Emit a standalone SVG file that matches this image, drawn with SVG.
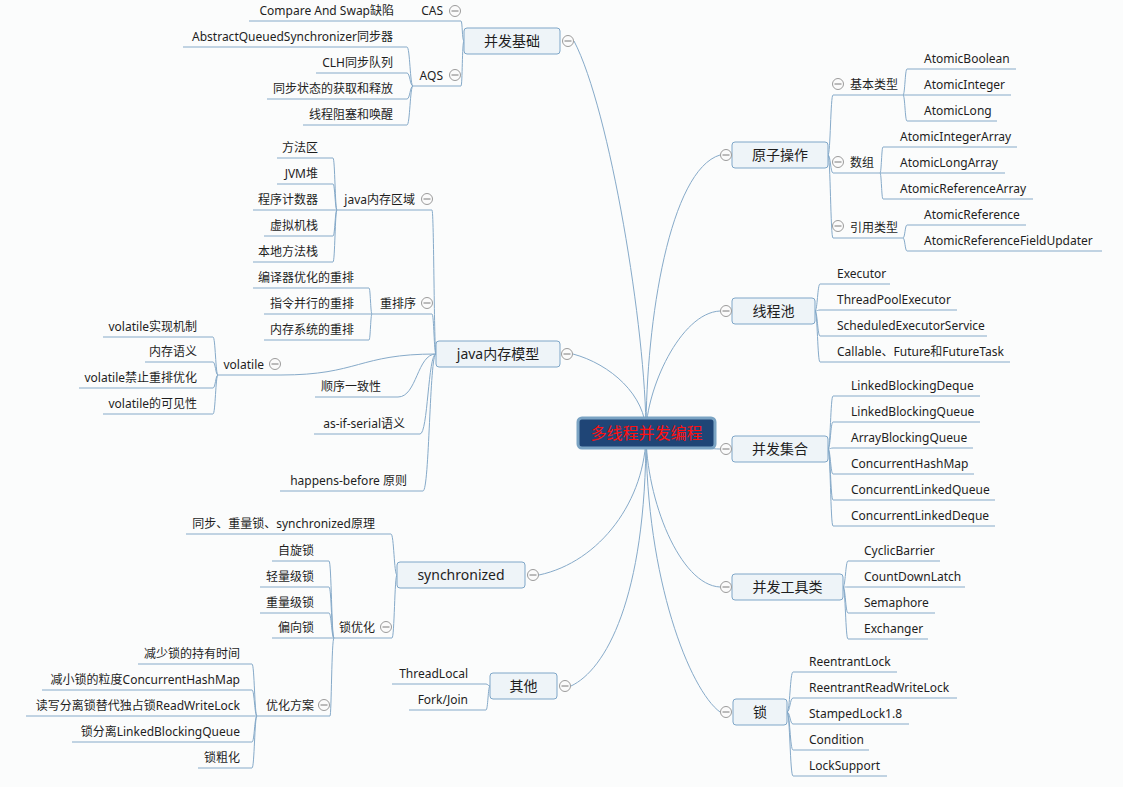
<svg xmlns="http://www.w3.org/2000/svg" width="1123" height="787" viewBox="0 0 1123 787">
<style>
.c{fill:none;stroke:#86aac9;stroke-width:1}
.u{stroke:#86aac9;stroke-width:1}
.box{fill:#eef4f8;stroke:#7ea6c8;stroke-width:1}
.t{font-family:"Noto Sans","Noto Sans CJK SC",sans-serif;font-size:12px;fill:#1e1e1e}
.e{text-anchor:end}
.m{font-family:"Noto Sans","Noto Sans CJK SC",sans-serif;font-size:14px;fill:#1e1e1e;text-anchor:middle}
</style>
<defs>
<g id="mn"><circle r="5.5" fill="#fbfbfb" stroke="#9b9b9b"/><line x1="-3.5" x2="3.5" y1="0" y2="0" stroke="#7a7a7a"/></g>
</defs>
<rect width="1123" height="787" fill="#fbfcfc"/>
<g id="connectors">
<path class="c" d="M646,433 C646,330 610,110 574,41"/>
<path class="c" d="M646,433 C646,320 670,170 720,155"/>
<path class="c" d="M646,433 C646,390 680,313 720,311"/>
<path class="c" d="M646,433 C646,395 610,364 573,354"/>
<path class="c" d="M646,433 C680,440 700,449 720,449"/>
<path class="c" d="M646,433 C646,500 600,562 539,575"/>
<path class="c" d="M646,433 C646,600 605,670 571,686"/>
<path class="c" d="M646,433 C646,500 680,585 720,587"/>
<path class="c" d="M646,433 C646,580 690,690 720,712"/>
<path class="c" d="M464,41 C462,41 462.5,21 461,21"/>
<path class="c" d="M464,41 C462,41 462.5,86 461,86"/>
<path class="c" d="M413,86 C410,86 410,47 407,47"/>
<path class="c" d="M413,86 C410,86 410,73 407,73"/>
<path class="c" d="M413,86 C410,86 410,99 407,99"/>
<path class="c" d="M413,86 C410,86 410,125 407,125"/>
<path class="c" d="M436,354 C434,354 434,210 432,210"/>
<path class="c" d="M436,354 C434,354 434,314 432,314"/>
<path class="c" d="M436,354 C358.5,354 358.5,375 281,375"/>
<path class="c" d="M436,354 C417,354 417,397 398,397"/>
<path class="c" d="M436,354 C428,354 428,434 420,434"/>
<path class="c" d="M436,354 C429.5,354 429.5,491 423,491"/>
<path class="c" d="M337,210 C335,210 335,158 333,158"/>
<path class="c" d="M337,210 C335,210 335,184 333,184"/>
<path class="c" d="M337,210 C335,210 335,236 333,236"/>
<path class="c" d="M337,210 C335,210 335,262 333,262"/>
<path class="c" d="M372,314 C370.5,314 370.5,288 369,288"/>
<path class="c" d="M372,314 C370.5,314 370.5,340 369,340"/>
<path class="c" d="M218,375 C215.5,375 215.5,337 213,337"/>
<path class="c" d="M218,375 C215.5,375 215.5,362 213,362"/>
<path class="c" d="M218,375 C215.5,375 215.5,388 213,388"/>
<path class="c" d="M218,375 C215.5,375 215.5,414 213,414"/>
<path class="c" d="M397,575 C394,575 394,534 391,534"/>
<path class="c" d="M397,575 C394.5,575 394.5,638 392,638"/>
<path class="c" d="M334,638 C331.5,638 331.5,561 329,561"/>
<path class="c" d="M334,638 C331.5,638 331.5,587 329,587"/>
<path class="c" d="M334,638 C331.5,638 331.5,613 329,613"/>
<path class="c" d="M334,638 C331.5,638 331.5,716 330,716"/>
<path class="c" d="M257,716 C254.5,716 254.5,664 252,664"/>
<path class="c" d="M257,716 C254.5,716 254.5,690 252,690"/>
<path class="c" d="M257,716 C254.5,716 254.5,742 252,742"/>
<path class="c" d="M257,716 C254.5,716 254.5,768 252,768"/>
<path class="c" d="M490,686 C488,686 488,684 486,684"/>
<path class="c" d="M490,686 C488,686 488,710 486,710"/>
<path class="c" d="M828,155 C830.5,155 830.5,95 833,95"/>
<path class="c" d="M828,155 C830.5,155 830.5,173 833,173"/>
<path class="c" d="M828,155 C830.5,155 830.5,238 833,238"/>
<path class="c" d="M903,95 C905,95 905,69 907,69"/>
<path class="c" d="M903,95 C905,95 905,121 907,121"/>
<path class="c" d="M880,173 C881.5,173 881.5,147 883,147"/>
<path class="c" d="M880,173 C881.5,173 881.5,199 883,199"/>
<path class="c" d="M903,238 C905,238 905,225 907,225"/>
<path class="c" d="M903,238 C905,238 905,251 907,251"/>
<path class="c" d="M815,311 C817.5,311 817.5,284 820,284"/>
<path class="c" d="M815,311 C817.5,311 817.5,310 820,310"/>
<path class="c" d="M815,311 C817.5,311 817.5,336 820,336"/>
<path class="c" d="M815,311 C817.5,311 817.5,362 820,362"/>
<path class="c" d="M828,449 C830.5,449 830.5,396 833,396"/>
<path class="c" d="M828,449 C830.5,449 830.5,422 833,422"/>
<path class="c" d="M828,449 C830.5,449 830.5,448 833,448"/>
<path class="c" d="M828,449 C830.5,449 830.5,474 833,474"/>
<path class="c" d="M828,449 C830.5,449 830.5,500 833,500"/>
<path class="c" d="M828,449 C830.5,449 830.5,526 833,526"/>
<path class="c" d="M843,587 C845.5,587 845.5,561 848,561"/>
<path class="c" d="M843,587 C845.5,587 845.5,587 848,587"/>
<path class="c" d="M843,587 C845.5,587 845.5,613 848,613"/>
<path class="c" d="M843,587 C845.5,587 845.5,639 848,639"/>
<path class="c" d="M787,712 C790,712 790,672 793,672"/>
<path class="c" d="M787,712 C790,712 790,698 793,698"/>
<path class="c" d="M787,712 C790,712 790,724 793,724"/>
<path class="c" d="M787,712 C790,712 790,750 793,750"/>
<path class="c" d="M787,712 C790,712 790,776 793,776"/>
</g>

<g id="n-root">
<rect x="578" y="418" width="137" height="30" rx="4" fill="#1f4576" stroke="#7aa3c3" stroke-width="3"/>
<text x="646.5" y="438.5" font-family="Noto Sans CJK SC, sans-serif" font-size="16" fill="#ff1010" text-anchor="middle">多线程并发编程</text>
</g>

<g id="n-bingfa-jichu">
<rect class="box" x="464" y="28" width="96" height="26" rx="3"/>
<text class="m" x="512" y="46">并发基础</text>
<use href="#mn" x="568" y="41"/>
</g>
<g id="n-cas"><line class="u" x1="413" y1="21" x2="461" y2="21"/><text class="t e" x="443" y="15">CAS</text><use href="#mn" x="455" y="11"/></g>
<g id="n-cas-defect"><line class="u" x1="249" y1="21" x2="413" y2="21"/><text class="t e" x="394" y="15">Compare And Swap缺陷</text></g>
<g id="n-aqs"><line class="u" x1="413" y1="86" x2="461" y2="86"/><text class="t e" x="443" y="80">AQS</text><use href="#mn" x="455" y="75"/></g>
<g id="n-aqs-1"><line class="u" x1="183" y1="47" x2="407" y2="47"/><text class="t e" x="393" y="41">AbstractQueuedSynchronizer同步器</text></g>
<g id="n-aqs-2"><line class="u" x1="316" y1="73" x2="407" y2="73"/><text class="t e" x="393" y="67">CLH同步队列</text></g>
<g id="n-aqs-3"><line class="u" x1="267" y1="99" x2="407" y2="99"/><text class="t e" x="393" y="93">同步状态的获取和释放</text></g>
<g id="n-aqs-4"><line class="u" x1="303" y1="125" x2="407" y2="125"/><text class="t e" x="393" y="119">线程阻塞和唤醒</text></g>

<g id="n-jmm">
<rect class="box" x="436" y="341" width="124" height="26" rx="3"/>
<text class="m" x="498" y="359">java内存模型</text>
<use href="#mn" x="567" y="354"/>
</g>
<g id="n-mem-area"><line class="u" x1="337" y1="210" x2="432" y2="210"/><text class="t e" x="415" y="204">java内存区域</text><use href="#mn" x="427" y="199"/></g>
<g id="n-ma-1"><line class="u" x1="277" y1="158" x2="333" y2="158"/><text class="t e" x="318" y="152">方法区</text></g>
<g id="n-ma-2"><line class="u" x1="277" y1="184" x2="333" y2="184"/><text class="t e" x="318" y="178">JVM堆</text></g>
<g id="n-ma-3"><line class="u" x1="253" y1="210" x2="337" y2="210"/><text class="t e" x="318" y="204">程序计数器</text></g>
<g id="n-ma-4"><line class="u" x1="264" y1="236" x2="333" y2="236"/><text class="t e" x="318" y="230">虚拟机栈</text></g>
<g id="n-ma-5"><line class="u" x1="253" y1="262" x2="333" y2="262"/><text class="t e" x="318" y="256">本地方法栈</text></g>
<g id="n-reorder"><line class="u" x1="372" y1="314" x2="432" y2="314"/><text class="t e" x="416" y="308">重排序</text><use href="#mn" x="427" y="303"/></g>
<g id="n-ro-1"><line class="u" x1="253" y1="288" x2="369" y2="288"/><text class="t e" x="354" y="282">编译器优化的重排</text></g>
<g id="n-ro-2"><line class="u" x1="264" y1="314" x2="372" y2="314"/><text class="t e" x="354" y="308">指令并行的重排</text></g>
<g id="n-ro-3"><line class="u" x1="264" y1="340" x2="369" y2="340"/><text class="t e" x="354" y="334">内存系统的重排</text></g>
<g id="n-volatile"><line class="u" x1="218" y1="375" x2="281" y2="375"/><text class="t e" x="264" y="369">volatile</text><use href="#mn" x="275" y="364"/></g>
<g id="n-vo-1"><line class="u" x1="103" y1="337" x2="213" y2="337"/><text class="t e" x="197" y="331">volatile实现机制</text></g>
<g id="n-vo-2"><line class="u" x1="145" y1="362" x2="213" y2="362"/><text class="t e" x="197" y="356">内存语义</text></g>
<g id="n-vo-3"><line class="u" x1="79" y1="388" x2="213" y2="388"/><text class="t e" x="197" y="382">volatile禁止重排优化</text></g>
<g id="n-vo-4"><line class="u" x1="103" y1="414" x2="213" y2="414"/><text class="t e" x="197" y="408">volatile的可见性</text></g>
<g id="n-seq"><line class="u" x1="315" y1="397" x2="398" y2="397"/><text class="t e" x="381" y="391">顺序一致性</text></g>
<g id="n-asif"><line class="u" x1="314" y1="434" x2="420" y2="434"/><text class="t e" x="405" y="428">as-if-serial语义</text></g>
<g id="n-hb"><line class="u" x1="280" y1="491" x2="423" y2="491"/><text class="t e" x="407" y="485">happens-before 原则</text></g>

<g id="n-sync">
<rect class="box" x="397" y="562" width="128" height="26" rx="3"/>
<text class="m" x="461" y="580">synchronized</text>
<use href="#mn" x="533" y="575"/>
</g>
<g id="n-sync-1"><line class="u" x1="186" y1="534" x2="391" y2="534"/><text class="t e" x="375" y="528">同步、重量锁、synchronized原理</text></g>
<g id="n-lockopt"><line class="u" x1="334" y1="638" x2="392" y2="638"/><text class="t e" x="375" y="632">锁优化</text><use href="#mn" x="386" y="627"/></g>
<g id="n-lo-1"><line class="u" x1="272" y1="561" x2="329" y2="561"/><text class="t e" x="314" y="555">自旋锁</text></g>
<g id="n-lo-2"><line class="u" x1="260" y1="587" x2="329" y2="587"/><text class="t e" x="314" y="581">轻量级锁</text></g>
<g id="n-lo-3"><line class="u" x1="260" y1="613" x2="329" y2="613"/><text class="t e" x="314" y="607">重量级锁</text></g>
<g id="n-lo-4"><line class="u" x1="272" y1="638" x2="334" y2="638"/><text class="t e" x="314" y="632">偏向锁</text></g>
<g id="n-optplan"><line class="u" x1="257" y1="716" x2="330" y2="716"/><text class="t e" x="314" y="710">优化方案</text><use href="#mn" x="324" y="705"/></g>
<g id="n-op-1"><line class="u" x1="138" y1="664" x2="252" y2="664"/><text class="t e" x="240" y="658">减少锁的持有时间</text></g>
<g id="n-op-2"><line class="u" x1="42" y1="690" x2="252" y2="690"/><text class="t e" x="240" y="684">减小锁的粒度ConcurrentHashMap</text></g>
<g id="n-op-3"><line class="u" x1="26" y1="716" x2="257" y2="716"/><text class="t e" x="240" y="710">读写分离锁替代独占锁ReadWriteLock</text></g>
<g id="n-op-4"><line class="u" x1="72" y1="742" x2="252" y2="742"/><text class="t e" x="240" y="736">锁分离LinkedBlockingQueue</text></g>
<g id="n-op-5"><line class="u" x1="198" y1="768" x2="252" y2="768"/><text class="t e" x="240" y="762">锁粗化</text></g>

<g id="n-other">
<rect class="box" x="490" y="673" width="67" height="26" rx="3"/>
<text class="m" x="523.5" y="691">其他</text>
<use href="#mn" x="565" y="686"/>
</g>
<g id="n-ot-1"><line class="u" x1="392" y1="684" x2="486" y2="684"/><text class="t e" x="468" y="678">ThreadLocal</text></g>
<g id="n-ot-2"><line class="u" x1="409" y1="710" x2="486" y2="710"/><text class="t e" x="468" y="704">Fork/Join</text></g>

<g id="n-atomic">
<rect class="box" x="732" y="142" width="96" height="26" rx="3"/>
<text class="m" x="780" y="160">原子操作</text>
<use href="#mn" x="726" y="155"/>
</g>
<g id="n-basic"><line class="u" x1="833" y1="95" x2="903" y2="95"/><use href="#mn" x="838" y="84"/><text class="t" x="850" y="89">基本类型</text></g>
<g id="n-ba-1"><line class="u" x1="907" y1="69" x2="1016" y2="69"/><text class="t" x="924" y="63">AtomicBoolean</text></g>
<g id="n-ba-2"><line class="u" x1="903" y1="95" x2="1011" y2="95"/><text class="t" x="924" y="89">AtomicInteger</text></g>
<g id="n-ba-3"><line class="u" x1="907" y1="121" x2="997" y2="121"/><text class="t" x="924" y="115">AtomicLong</text></g>
<g id="n-array"><line class="u" x1="833" y1="173" x2="880" y2="173"/><use href="#mn" x="838" y="162"/><text class="t" x="850" y="167">数组</text></g>
<g id="n-ar-1"><line class="u" x1="883" y1="147" x2="1017" y2="147"/><text class="t" x="900" y="141">AtomicIntegerArray</text></g>
<g id="n-ar-2"><line class="u" x1="880" y1="173" x2="1005" y2="173"/><text class="t" x="900" y="167">AtomicLongArray</text></g>
<g id="n-ar-3"><line class="u" x1="883" y1="199" x2="1033" y2="199"/><text class="t" x="900" y="193">AtomicReferenceArray</text></g>
<g id="n-ref"><line class="u" x1="833" y1="238" x2="903" y2="238"/><use href="#mn" x="838" y="226"/><text class="t" x="850" y="232">引用类型</text></g>
<g id="n-rf-1"><line class="u" x1="907" y1="225" x2="1026" y2="225"/><text class="t" x="924" y="219">AtomicReference</text></g>
<g id="n-rf-2"><line class="u" x1="907" y1="251" x2="1102" y2="251"/><text class="t" x="924" y="245">AtomicReferenceFieldUpdater</text></g>

<g id="n-pool">
<rect class="box" x="732" y="298" width="83" height="26" rx="3"/>
<text class="m" x="773.5" y="316">线程池</text>
<use href="#mn" x="726" y="311"/>
</g>
<g id="n-po-1"><line class="u" x1="820" y1="284" x2="890" y2="284"/><text class="t" x="837" y="278">Executor</text></g>
<g id="n-po-2"><line class="u" x1="820" y1="310" x2="957" y2="310"/><text class="t" x="837" y="304">ThreadPoolExecutor</text></g>
<g id="n-po-3"><line class="u" x1="820" y1="336" x2="987" y2="336"/><text class="t" x="837" y="330">ScheduledExecutorService</text></g>
<g id="n-po-4"><line class="u" x1="820" y1="362" x2="1010" y2="362"/><text class="t" x="837" y="356">Callable、Future和FutureTask</text></g>

<g id="n-coll">
<rect class="box" x="732" y="436" width="96" height="26" rx="3"/>
<text class="m" x="780" y="454">并发集合</text>
<use href="#mn" x="726" y="449"/>
</g>
<g id="n-co-1"><line class="u" x1="833" y1="396" x2="980" y2="396"/><text class="t" x="851" y="390">LinkedBlockingDeque</text></g>
<g id="n-co-2"><line class="u" x1="833" y1="422" x2="980" y2="422"/><text class="t" x="851" y="416">LinkedBlockingQueue</text></g>
<g id="n-co-3"><line class="u" x1="833" y1="448" x2="973" y2="448"/><text class="t" x="851" y="442">ArrayBlockingQueue</text></g>
<g id="n-co-4"><line class="u" x1="833" y1="474" x2="974" y2="474"/><text class="t" x="851" y="468">ConcurrentHashMap</text></g>
<g id="n-co-5"><line class="u" x1="833" y1="500" x2="995" y2="500"/><text class="t" x="851" y="494">ConcurrentLinkedQueue</text></g>
<g id="n-co-6"><line class="u" x1="833" y1="526" x2="995" y2="526"/><text class="t" x="851" y="520">ConcurrentLinkedDeque</text></g>

<g id="n-tools">
<rect class="box" x="732" y="574" width="111" height="26" rx="3"/>
<text class="m" x="787.5" y="592">并发工具类</text>
<use href="#mn" x="726" y="587"/>
</g>
<g id="n-to-1"><line class="u" x1="848" y1="561" x2="940" y2="561"/><text class="t" x="864" y="555">CyclicBarrier</text></g>
<g id="n-to-2"><line class="u" x1="848" y1="587" x2="965" y2="587"/><text class="t" x="864" y="581">CountDownLatch</text></g>
<g id="n-to-3"><line class="u" x1="848" y1="613" x2="935" y2="613"/><text class="t" x="864" y="607">Semaphore</text></g>
<g id="n-to-4"><line class="u" x1="848" y1="639" x2="928" y2="639"/><text class="t" x="864" y="633">Exchanger</text></g>

<g id="n-lock">
<rect class="box" x="733" y="699" width="54" height="26" rx="3"/>
<text class="m" x="760" y="717">锁</text>
<use href="#mn" x="726" y="712"/>
</g>
<g id="n-lk-1"><line class="u" x1="793" y1="672" x2="897" y2="672"/><text class="t" x="809" y="666">ReentrantLock</text></g>
<g id="n-lk-2"><line class="u" x1="793" y1="698" x2="957" y2="698"/><text class="t" x="809" y="692">ReentrantReadWriteLock</text></g>
<g id="n-lk-3"><line class="u" x1="793" y1="724" x2="909" y2="724"/><text class="t" x="809" y="718">StampedLock1.8</text></g>
<g id="n-lk-4"><line class="u" x1="793" y1="750" x2="869" y2="750"/><text class="t" x="809" y="744">Condition</text></g>
<g id="n-lk-5"><line class="u" x1="793" y1="776" x2="887" y2="776"/><text class="t" x="809" y="770">LockSupport</text></g>
</svg>
